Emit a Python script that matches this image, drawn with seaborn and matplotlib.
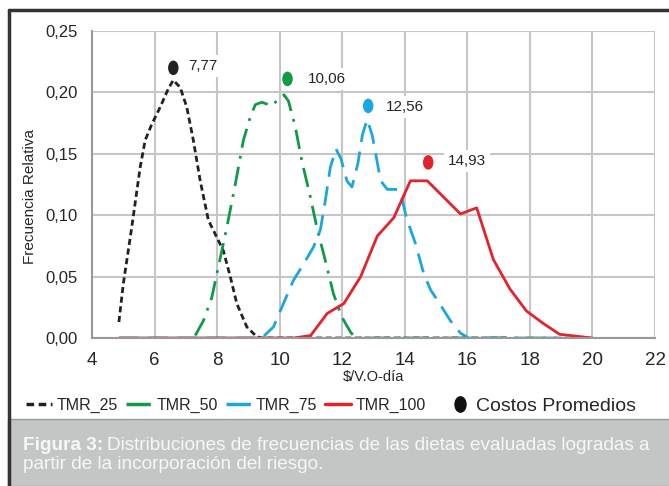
import numpy as np
import matplotlib
matplotlib.use("Agg")
import matplotlib.pyplot as plt
import seaborn as sns
from matplotlib.path import Path
from matplotlib.markers import MarkerStyle
from matplotlib.transforms import Affine2D
from matplotlib.patches import Rectangle
from matplotlib.lines import Line2D

# datos
tmr25_x = [4.86, 5.0, 5.27, 5.54, 5.70, 5.91, 6.18, 6.44, 6.60, 6.82, 7.03, 7.24, 7.46, 7.72,
           7.99, 8.2, 8.42, 8.63, 8.95, 9.27, 9.43, 12.0, 15.0, 17.3]
tmr25_y = [0.013, 0.044, 0.090, 0.139, 0.161, 0.174, 0.188, 0.203, 0.210, 0.204, 0.188, 0.161,
           0.128, 0.096, 0.082, 0.071, 0.050, 0.028, 0.009, 0.001, 0.0, 0.0, 0.0, 0.0]

tmr50_x = [7.30, 7.56, 7.83, 8.04, 8.31, 8.58, 8.84, 9.06, 9.22, 9.43, 9.75, 10.02, 10.14, 10.28,
           10.50, 10.71, 10.98, 11.19, 11.46, 11.72, 11.99, 12.26, 12.42, 15.0, 19.2]
tmr50_y = [0.002, 0.014, 0.033, 0.058, 0.090, 0.125, 0.161, 0.180, 0.190, 0.192, 0.189, 0.196,
           0.198, 0.193, 0.172, 0.144, 0.115, 0.090, 0.063, 0.036, 0.017, 0.005, 0.0, 0.0, 0.0]

tmr75_x = [4.86, 7.0, 9.43, 9.80, 10.12, 10.44, 10.76, 11.08, 11.30, 11.46, 11.62, 11.80, 11.96,
           12.15, 12.31, 12.50, 12.65, 12.80, 12.96, 13.23, 13.44, 13.76, 13.89, 14.05, 14.34,
           14.61, 14.83, 15.14, 15.46, 15.78, 16.04, 18.0, 19.5]
tmr75_y = [0.0, 0.0, 0.0, 0.009, 0.028, 0.047, 0.060, 0.074, 0.088, 0.112, 0.139, 0.154, 0.146,
           0.128, 0.123, 0.142, 0.166, 0.178, 0.165, 0.128, 0.121, 0.121, 0.116, 0.098, 0.077,
           0.052, 0.039, 0.027, 0.014, 0.004, 0.0, 0.0, 0.0]

tmr100_x = [4.88, 7.0, 9.0, 10.45, 10.99, 11.52, 12.05, 12.59, 13.12, 13.65, 14.18, 14.72,
            15.78, 16.30, 16.83, 17.36, 17.89, 18.42, 18.95, 20.0]
tmr100_y = [0.0, 0.0, 0.0, 0.0, 0.002, 0.020, 0.028, 0.050, 0.083, 0.098, 0.128, 0.128,
            0.101, 0.106, 0.064, 0.040, 0.022, 0.012, 0.003, 0.0]

media_x = [6.6, 10.25, 12.83, 14.75]
media_y = [0.220, 0.211, 0.189, 0.143]
media_txt = ["7,77", "10,06", "12,56", "14,93"]
media_lx = [7.07, 10.9, 13.4, 15.38]
media_ly = [0.2215, 0.211, 0.188, 0.144]

nombres = ["TMR_25", "TMR_50", "TMR_75", "TMR_100"]
colores = ["#222222", "#0f9a48", "#1ba6e2", "#e3232b"]
estilos = [(0, (2.2, 1.3)), (0, (7, 3, 1, 3)), (0, (7, 3.5)), "-"]

sns.set_style("white")
plt.rcParams["font.family"] = ["Liberation Sans", "DejaVu Sans"]

fig = plt.figure(figsize=(6.69, 4.86), dpi=100)
ax = fig.add_axes([92/669, 1-338/486, (655-92)/669, (338-31)/486])

series = [(tmr25_x, tmr25_y), (tmr50_x, tmr50_y), (tmr75_x, tmr75_y), (tmr100_x, tmr100_y)]
for (xs, ys), nom, col, ls in zip(series, nombres, colores, estilos):
    sns.lineplot(x=xs, y=ys, ax=ax, color=col, linestyle=ls, linewidth=2,
                 sort=False, estimator=None, label=nom, legend=False)

# marcador eliptico
elipse = MarkerStyle(Path.unit_circle().transformed(Affine2D().scale(0.72, 1)))
sns.scatterplot(x=media_x, y=media_y, hue=nombres, palette=colores, marker=elipse,
                s=110, linewidth=0, ax=ax, legend=False, zorder=5)
for lx, ly, t in zip(media_lx, media_ly, media_txt):
    ax.text(lx, ly, t, fontsize=11, va="center", ha="left", zorder=4,
            bbox=dict(facecolor="white", edgecolor="none", pad=3))

ax.set_xlim(4, 22)
ax.set_ylim(0, 0.25)
ax.set_xticks(range(4, 23, 2))
ax.set_yticks([0, 0.05, 0.10, 0.15, 0.20, 0.25])
ax.set_yticklabels([f"{v:.2f}".replace(".", ",") for v in [0, 0.05, 0.10, 0.15, 0.20, 0.25]])
ax.grid(True, color="#c6c6c6", linewidth=1.5)
ax.set_axisbelow(True)
for s in ["top", "right"]:
    ax.spines[s].set_visible(False)
for s in ["left", "bottom"]:
    ax.spines[s].set_color("#999999")
    ax.spines[s].set_linewidth(1.5)
ax.tick_params(axis="both", direction="out", length=5, width=1.2, color="#999999")
ax.tick_params(axis="x", labelsize=13.5, pad=5)
ax.tick_params(axis="y", labelsize=12, pad=5)
ax.set_xlabel("$/V.O-día", fontsize=10.5, labelpad=1)
ax.set_ylabel("Frecuencia Relativa", fontsize=11)
ax.yaxis.set_label_coords(-0.098, 0.46)

# leyenda
handles = [Line2D([], [], color=c, linestyle=ls, linewidth=2.5) for c, ls in zip(colores, estilos)]
fig.legend(handles, nombres, loc="center left", bbox_to_anchor=(20/669, 1-405/486),
           ncol=4, frameon=False, fontsize=11.5, handlelength=1.6, handletextpad=0.3,
           columnspacing=0.5, borderaxespad=0)
punto = Line2D([], [], color="#111111", marker=elipse, linestyle="none", markersize=11)
fig.legend([punto], ["Costos Promedios"], loc="center left", bbox_to_anchor=(443/669, 1-406/486),
           frameon=False, fontsize=14, handlelength=1.0, handletextpad=0.3, borderaxespad=0)

# marco y pie de figura
fig.patches.append(Rectangle((8/669, 0), 1, 1-419/486, transform=fig.transFigure,
                             facecolor="#c4c6c6", edgecolor="#9a9a9a", linewidth=1, zorder=0))
fig.add_artist(Line2D([8.5/669, 1], [1-10/486, 1-10/486], color="#333333", linewidth=2.5))
fig.add_artist(Line2D([8.5/669, 8.5/669], [0, 1-10/486], color="#333333", linewidth=2.5))

t1 = fig.text(23/669, 1-445/486, "Figura 3:", fontsize=13.7, fontweight="bold",
              color="#f6f6f6", va="center", ha="left")
fig.canvas.draw()
bb = t1.get_window_extent(fig.canvas.get_renderer())
fig.text(bb.x1/fig.bbox.width + 4/669, 1-445/486,
         "Distribuciones de frecuencias de las dietas evaluadas logradas a",
         fontsize=13.7, color="#f6f6f6", va="center", ha="left")
fig.text(23/669, 1-464/486, "partir de la incorporación del riesgo.", fontsize=13.7,
         color="#f6f6f6", va="center", ha="left")

fig.savefig("out.png", dpi=100)
